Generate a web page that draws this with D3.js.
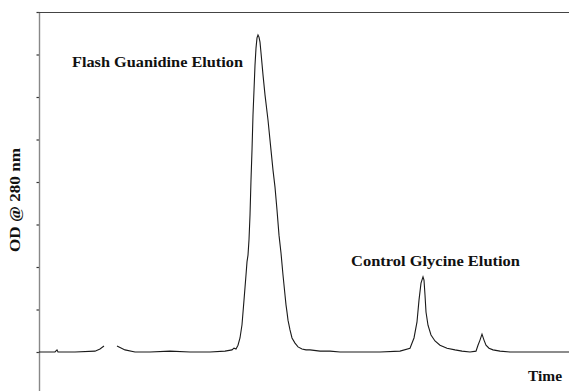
<!DOCTYPE html>
<html>
<head>
<meta charset="utf-8">
<script src="https://cdn.jsdelivr.net/npm/d3@7"></script>
<style>
  body { margin: 0; background: #fff; }
  text { font-family: "Liberation Serif", "DejaVu Serif", serif; font-weight: bold; fill: #111; }
</style>
</head>
<body>
<div id="chart"></div>
<script>
// elution time (arbitrary units) and absorbance
const time = [0, 1.6, 1.8, 1.9, 3.6, 5.6, 6.1, 6.5, null, 7.8, 8.6, 9.6, 11.1, 13.1, 15.1, 17.1, 18.6, 19.3, 19.5, 19.7,
  19.9, 20.1, 20.3, 20.5, 20.7, 20.8, 20.9, 21.0, 21.1, 21.2, 21.3, 21.4, 21.5, 21.6, 21.7, 21.8, 21.9,
  22.0, 22.1, 22.2, 22.4, 22.6, 22.9, 23.2, 23.4, 23.6, 23.8, 24.0, 24.2, 24.4, 24.6, 24.7, 24.8, 24.9, 25.1, 25.3,
  25.6, 25.9, 26.3, 26.7, 27.1, 28.1, 29.1, 30.1, 32.1, 34.1, 36.1, 37.1, 37.5, 37.8, 38.0, 38.2, 38.4, 38.5, 38.6,
  38.7, 38.9, 39.2, 39.6, 40.1, 40.8, 41.6, 42.3, 43.1, 43.7, 43.9, 44.1, 44.3, 44.5, 44.7, 45.0, 45.4, 46.1, 47.1,
  48.1, 53.0];
const od = [0, 0, 0.05, 0, 0, 0.02, 0.07, 0.14, null, 0.14, 0.05, 0, 0, 0.02, 0, 0, 0.02, 0.05, 0.09, 0.07,
  0.16, 0.33, 0.64, 1.22, 1.81, 2.12, 2.28, 2.64, 3.22, 4.05, 4.75, 5.58, 6.16, 6.75, 7.15, 7.39, 7.46,
  7.41, 7.29, 7.04, 6.52, 6.05, 5.46, 4.75, 4.28, 3.88, 3.34, 2.75, 2.33, 1.81, 1.34, 1.11, 0.94, 0.75, 0.52, 0.33,
  0.21, 0.12, 0.07, 0.05, 0.05, 0.02, 0.02, 0, 0, 0, 0.02, 0.09, 0.33, 0.71, 1.22, 1.62, 1.77, 1.69, 1.34,
  0.94, 0.63, 0.40, 0.26, 0.16, 0.09, 0.05, 0.02, 0, 0.02, 0.16, 0.28, 0.42, 0.28, 0.16, 0.09, 0.05, 0.02, 0,
  0, 0];
const yTicks = [0, 1, 2, 3, 4, 5, 6, 7, 8];

const width = 569, height = 391;
const svg = d3.select('#chart').append('svg').attr('width', width).attr('height', height);

const x = d3.scaleLinear().domain([0, 53]).range([39, 569]);
const y = d3.scaleLinear().domain([0, 8]).range([352, 12]);

const points = time.map((t, i) => ({ t: t, v: od[i] }));

// left axis, runs past zero down to the bottom edge
svg.append('g')
  .attr('transform', 'translate(39.5,0)')
  .call(d3.axisLeft(y).tickValues(yTicks).tickSize(3).tickFormat(''))
  .call(g => g.select('.domain').remove())
  .call(g => g.selectAll('.tick line').attr('stroke', '#333').attr('stroke-width', 1.2));
svg.append('line')
  .attr('x1', 39.5).attr('x2', 39.5).attr('y1', y(8)).attr('y2', height)
  .attr('stroke', '#888').attr('stroke-width', 1.4);

// top frame line
svg.append('line')
  .attr('x1', 39).attr('x2', width).attr('y1', y(8) + 0.5).attr('y2', y(8) + 0.5)
  .attr('stroke', '#444').attr('stroke-width', 1.2);

// trace
const line = d3.line()
  .defined(d => d.t !== null)
  .x(d => x(d.t))
  .y(d => y(d.v))
  .curve(d3.curveLinear);

svg.append('path')
  .datum(points)
  .attr('fill', 'none')
  .attr('stroke', '#1a1a1a')
  .attr('stroke-width', 1.1)
  .attr('d', line);

// labels
svg.append('text')
  .attr('transform', 'translate(20,200) rotate(-90)')
  .attr('text-anchor', 'middle')
  .attr('textLength', 104).attr('lengthAdjust', 'spacingAndGlyphs')
  .style('font-size', '15px')
  .text('OD @ 280 nm');

svg.append('text').attr('x', 72).attr('y', 67)
  .attr('textLength', 171).attr('lengthAdjust', 'spacingAndGlyphs')
  .style('font-size', '14.5px').text('Flash Guanidine Elution');
svg.append('text').attr('x', 351).attr('y', 266)
  .attr('textLength', 169).attr('lengthAdjust', 'spacingAndGlyphs')
  .style('font-size', '14.5px').text('Control Glycine Elution');
svg.append('text').attr('x', 528).attr('y', 381)
  .attr('textLength', 34).attr('lengthAdjust', 'spacingAndGlyphs')
  .style('font-size', '14.5px').text('Time');
</script>
</body>
</html>
